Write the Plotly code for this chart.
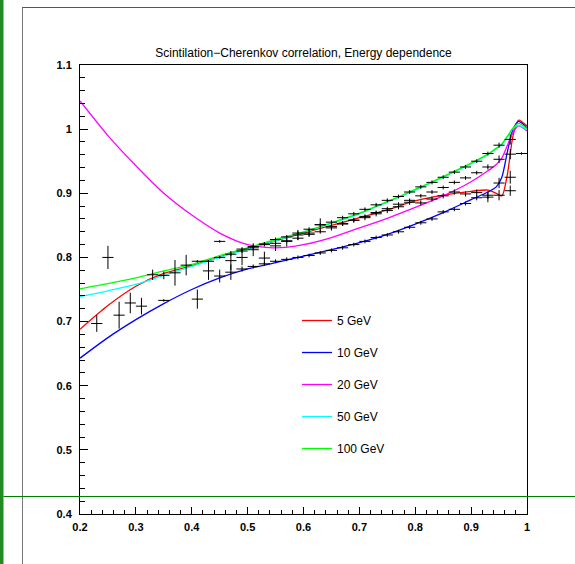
import plotly.graph_objects as go

# ---- curve knots (fits) ----
xk = [0.2, 0.25, 0.3, 0.35, 0.4, 0.45, 0.5, 0.55, 0.6, 0.65, 0.7, 0.75, 0.8,
      0.85, 0.9, 0.93, 0.945, 0.955, 0.965, 0.975, 0.985, 1.0]
fit_5 = [0.688, 0.725, 0.755, 0.775, 0.787, 0.801, 0.814, 0.826, 0.838, 0.850, 0.862,
         0.874, 0.888, 0.897, 0.903, 0.905, 0.900, 0.896, 0.930, 0.990, 1.014, 1.005]
fit_10 = [0.643, 0.675, 0.703, 0.728, 0.750, 0.768, 0.782, 0.792, 0.802, 0.812, 0.823,
          0.836, 0.852, 0.870, 0.890, 0.902, 0.910, 0.925, 0.965, 1.000, 1.012, 1.002]
fit_20 = [1.044, 0.990, 0.943, 0.900, 0.866, 0.838, 0.820, 0.815, 0.820, 0.831, 0.846,
          0.861, 0.878, 0.896, 0.918, 0.935, 0.945, 0.955, 0.975, 0.995, 1.005, 0.997]
fit_50 = [0.739, 0.748, 0.758, 0.772, 0.786, 0.800, 0.813, 0.826, 0.839, 0.853, 0.868,
          0.886, 0.905, 0.925, 0.946, 0.960, 0.970, 0.976, 0.988, 1.001, 1.006, 0.999]
fit_100 = [0.751, 0.759, 0.768, 0.779, 0.789, 0.803, 0.815, 0.828, 0.840, 0.854, 0.869,
           0.887, 0.906, 0.926, 0.947, 0.961, 0.970, 0.977, 0.989, 1.002, 1.009, 1.001]

labels = ["5 GeV", "10 GeV", "20 GeV", "50 GeV", "100 GeV"]
colors = ["#ff0000", "#0000ff", "#ff00ff", "#00ffff", "#00ff00"]

# ---- measured points ----
x_a = [0.23, 0.25, 0.27, 0.29, 0.31, 0.33, 0.35, 0.37, 0.39, 0.41, 0.43, 0.45, 0.47,
       0.49, 0.51, 0.53, 0.55, 0.57, 0.59, 0.61, 0.63, 0.65, 0.67, 0.69, 0.71, 0.73,
       0.75, 0.77, 0.79, 0.81, 0.83, 0.85, 0.87, 0.89, 0.91, 0.93, 0.95, 0.97]
y_a = [0.697, 0.800, 0.710, 0.729, 0.724, 0.773, 0.772, 0.776, 0.788, 0.735, 0.779, 0.771, 0.795,
       0.800, 0.812, 0.799, 0.818, 0.825, 0.835, 0.838, 0.851, 0.848, 0.853, 0.858, 0.862, 0.868,
       0.873, 0.879, 0.886, 0.885, 0.891, 0.896, 0.902, 0.899, 0.901, 0.894, 0.897, 0.904]
e_a = [0.013, 0.018, 0.021, 0.016, 0.013, 0.008, 0.006, 0.020, 0.016, 0.015, 0.014, 0.010, 0.015,
       0.012, 0.010, 0.010, 0.008, 0.008, 0.008, 0.006, 0.010, 0.006, 0.004, 0.004, 0.004, 0.004,
       0.004, 0.004, 0.004, 0.004, 0.004, 0.004, 0.004, 0.004, 0.005, 0.008, 0.008, 0.008]

x_b = [0.35, 0.41, 0.43, 0.45, 0.47, 0.49, 0.51, 0.53, 0.55, 0.57, 0.59, 0.61, 0.63, 0.65,
       0.67, 0.69, 0.71, 0.73, 0.75, 0.77, 0.79, 0.81, 0.83, 0.85, 0.87, 0.89, 0.91,
       0.93, 0.95, 0.97]
y_b = [0.733, 0.794, 0.794, 0.800, 0.777, 0.782, 0.786, 0.790, 0.794, 0.797, 0.800, 0.803, 0.807,
       0.811, 0.815, 0.820, 0.825, 0.831, 0.835, 0.840, 0.847, 0.854, 0.860, 0.871, 0.875,
       0.884, 0.893, 0.897, 0.916, 0.925]
e_b = [0.002, 0.002, 0.002, 0.002, 0.012, 0.004, 0.003, 0.003, 0.003, 0.003, 0.003, 0.003, 0.003,
       0.003, 0.003, 0.003, 0.003, 0.003, 0.003, 0.003, 0.003, 0.003, 0.003, 0.003, 0.003,
       0.003, 0.004, 0.006, 0.008, 0.010]

x_c = [0.47, 0.49, 0.51, 0.53, 0.55, 0.57, 0.59, 0.61, 0.63, 0.65, 0.67, 0.69, 0.71, 0.73,
       0.75, 0.77, 0.79, 0.81, 0.83, 0.85, 0.87, 0.89, 0.91, 0.93, 0.95, 0.97, 0.99]
y_c = [0.805, 0.810, 0.815, 0.820, 0.822, 0.826, 0.830, 0.836, 0.840, 0.846, 0.852, 0.858, 0.864,
       0.870, 0.876, 0.883, 0.889, 0.896, 0.902, 0.909, 0.917, 0.924, 0.932, 0.941, 0.953, 0.961,
       0.962]
e_c = [0.003, 0.003, 0.003, 0.003, 0.003, 0.003, 0.003, 0.003, 0.003, 0.003, 0.003, 0.003, 0.003,
       0.003, 0.003, 0.003, 0.003, 0.003, 0.003, 0.003, 0.003, 0.003, 0.003, 0.004, 0.006, 0.008,
       0.002]

x_d = [0.45, 0.49, 0.51, 0.53, 0.55, 0.57, 0.59, 0.61, 0.63, 0.65, 0.67, 0.69, 0.71, 0.73,
       0.75, 0.77, 0.79, 0.81, 0.83, 0.85, 0.87, 0.89, 0.91, 0.93, 0.95, 0.97]
y_d = [0.825, 0.813, 0.817, 0.821, 0.828, 0.832, 0.838, 0.844, 0.851, 0.855, 0.862, 0.868, 0.875,
       0.882, 0.889, 0.895, 0.902, 0.910, 0.917, 0.925, 0.933, 0.941, 0.950, 0.962, 0.975, 0.984]
e_d = [0.002, 0.003, 0.003, 0.003, 0.003, 0.003, 0.003, 0.003, 0.003, 0.003, 0.003, 0.003, 0.003,
       0.003, 0.003, 0.003, 0.003, 0.003, 0.003, 0.003, 0.003, 0.003, 0.003, 0.003, 0.004, 0.008]

x_ticks = [0.2, 0.3, 0.4, 0.5, 0.6, 0.7, 0.8, 0.9, 1.0]
x_tick_text = ["0.2", "0.3", "0.4", "0.5", "0.6", "0.7", "0.8", "0.9", "1"]
y_ticks = [0.4, 0.5, 0.6, 0.7, 0.8, 0.9, 1.0, 1.1]
y_tick_text = ["0.4", "0.5", "0.6", "0.7", "0.8", "0.9", "1", "1.1"]

W, H = 575, 564

fig = go.Figure()

for fit, lab, col in zip([fit_5, fit_10, fit_20, fit_50, fit_100], labels, colors):
    fig.add_trace(go.Scatter(x=xk, y=fit, mode="lines", name=lab,
                             line=dict(color=col, width=1.3, shape="spline", smoothing=0.7),
                             legendgroup=lab))

for xs, ys, es in [(x_a, y_a, e_a), (x_b, y_b, e_b), (x_c, y_c, e_c), (x_d, y_d, e_d)]:
    fig.add_trace(go.Scatter(x=xs, y=ys, mode="markers", showlegend=False,
                             marker=dict(size=1, color="black"),
                             error_x=dict(type="constant", value=0.01, width=0, thickness=1, color="black"),
                             error_y=dict(type="data", array=es, width=0, thickness=1, color="black")))

axis_common = dict(showgrid=False, zeroline=False, showline=True, linecolor="black", linewidth=1,
                   mirror=True, ticks="inside", tickcolor="black", tickwidth=1, automargin=False,
                   tickfont=dict(family="Liberation Sans, Arial, sans-serif", size=11,
                                 color="black", weight="bold"))

fig.update_layout(
    template="none",
    width=W, height=H,
    margin=dict(l=0, r=0, t=0, b=0, pad=0),
    paper_bgcolor="white", plot_bgcolor="white",
    xaxis=dict(range=[0.2, 1.0], domain=[80 / W, 527 / W], tickvals=x_ticks, ticktext=x_tick_text,
               ticklen=7, ticklabelstandoff=3,
               minor=dict(ticks="inside", ticklen=4, dtick=0.02, tick0=0.2, tickcolor="black",
                          tickwidth=1, showgrid=False),
               **axis_common),
    yaxis=dict(range=[0.4, 1.1], domain=[1 - 514 / H, 1 - 65 / H], tickvals=y_ticks, ticktext=y_tick_text,
               ticklen=8, ticklabelstandoff=5,
               minor=dict(ticks="inside", ticklen=5, dtick=0.02, tick0=0.4, tickcolor="black",
                          tickwidth=1, showgrid=False),
               **axis_common),
    title=dict(text="Scintilation\u2212Cherenkov correlation, Energy dependence",
               x=303.5 / W, xanchor="center", y=1 - 52.5 / H, yanchor="middle", automargin=False,
               font=dict(family="Liberation Sans, Arial, sans-serif", size=12, color="black")),
    legend=dict(x=297 / W, xanchor="left", y=1 - 306 / H, yanchor="top",
                bgcolor="rgba(0,0,0,0)", borderwidth=0, tracegroupgap=13,
                font=dict(family="Liberation Sans, Arial, sans-serif", size=12, color="black")),
    showlegend=True,
    shapes=[
        dict(type="rect", xref="paper", yref="paper", x0=0, x1=3.5 / W, y0=0, y1=1,
             fillcolor="#228b22", line=dict(width=0), layer="above"),
        dict(type="line", xref="paper", yref="paper", x0=22.5 / W, x1=22.5 / W, y0=0, y1=1 - 7 / H,
             line=dict(color="#777777", width=1)),
        dict(type="line", xref="paper", yref="paper", x0=22.5 / W, x1=1, y0=1 - 7.5 / H, y1=1 - 7.5 / H,
             line=dict(color="#555555", width=1)),
        dict(type="line", xref="paper", yref="paper", x0=3.5 / W, x1=1, y0=1 - 496.5 / H, y1=1 - 496.5 / H,
             line=dict(color="#008000", width=1), layer="above"),
    ],
)

fig.write_html("out.html")
